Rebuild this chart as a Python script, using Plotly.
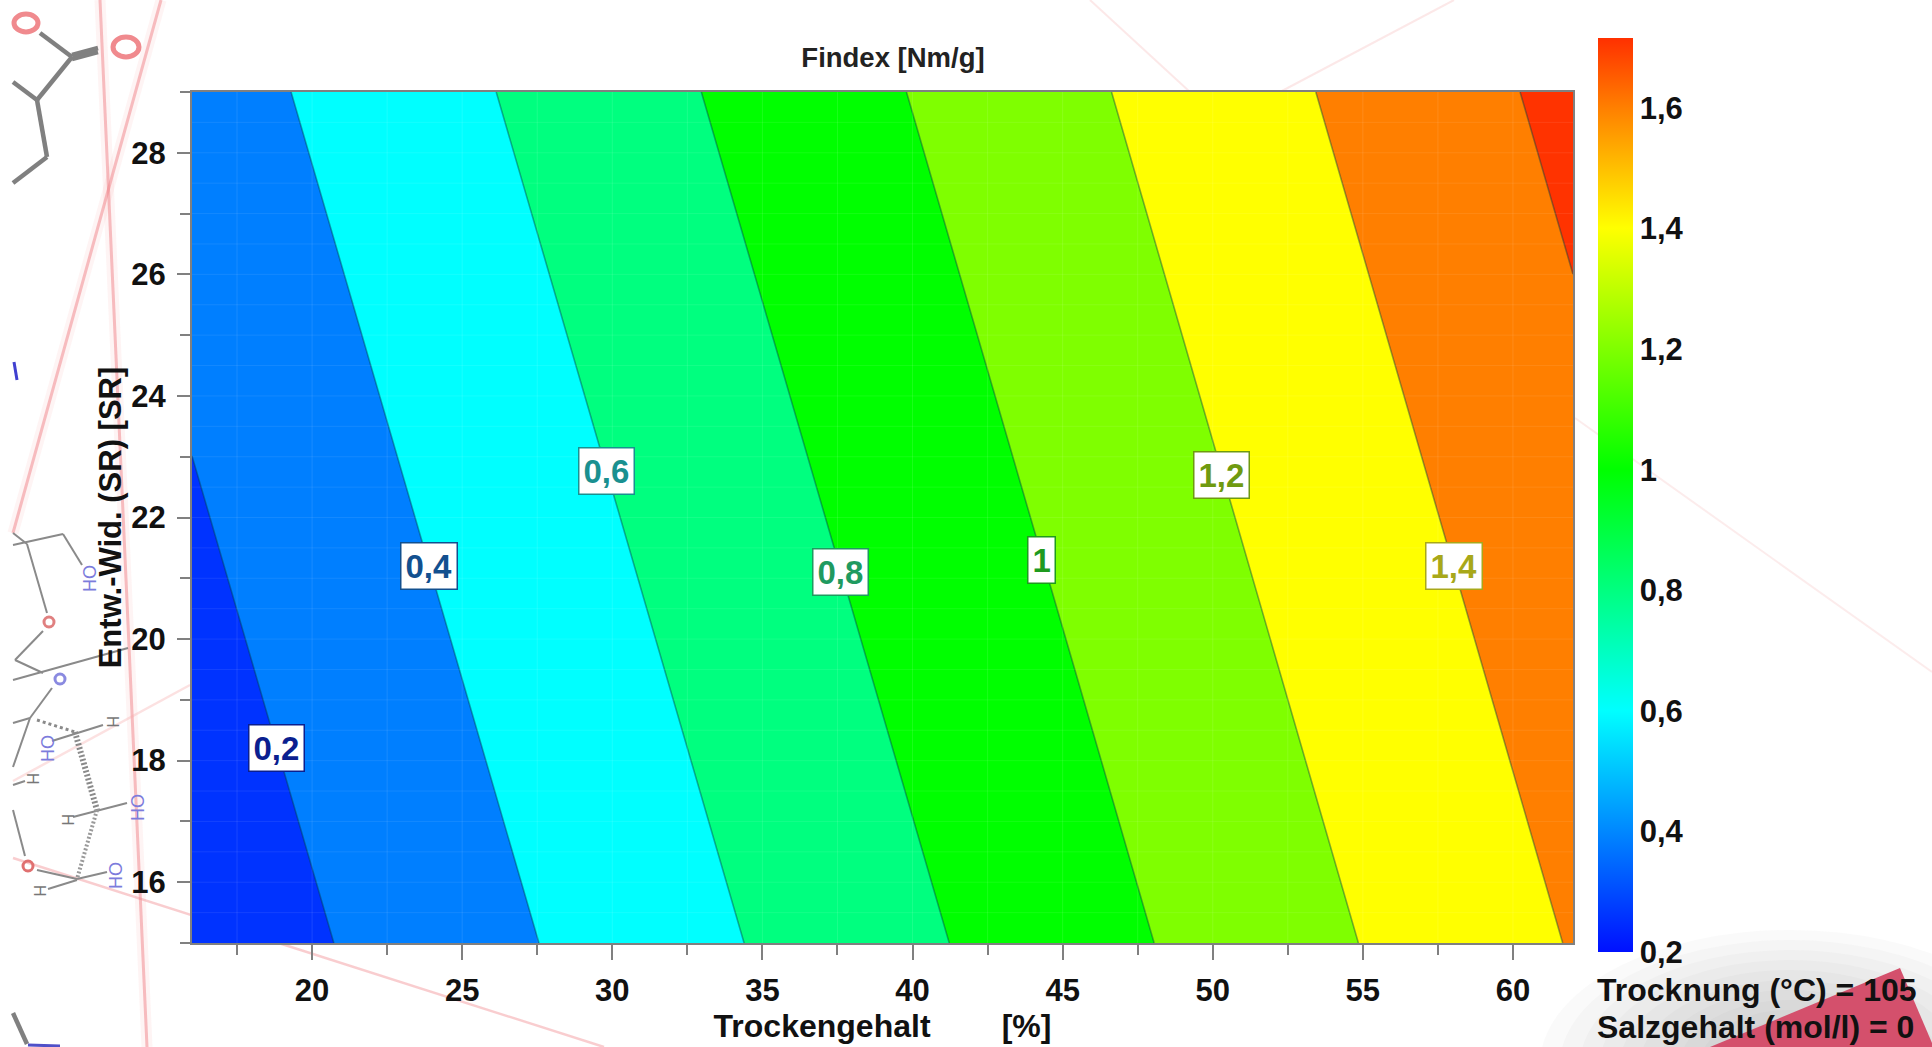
import plotly.graph_objects as go

W, H = 1932, 1047

# ---- data ----
x_values = [16, 30, 46, 62]
y_values = [15, 22, 29]
z_rows = [
    [0.0617, 0.4715, 0.9398, 1.4101],
    [0.1825, 0.5923, 1.0606, 1.5309],
    [0.3034, 0.7132, 1.1815, 1.6518],
]
band_colors = ["#0033ff", "#007fff", "#00ffff", "#00ff7f", "#00ff00",
               "#7fff00", "#ffff00", "#ff7f00", "#ff3300"]
label_texts = ["0,2", "0,4", "0,6", "0,8", "1", "1,2", "1,4"]
label_x = [18.8, 23.9, 29.8, 37.6, 44.3, 50.3, 58.05]
label_y = [18.2, 21.2, 22.77, 21.1, 21.3, 22.7, 21.2]
label_colors = ["#0b1f8f", "#12508f", "#1a9090", "#1f9a60", "#1f9a1f", "#6f9a10", "#a8a81a"]
x_ticks = [20, 25, 30, 35, 40, 45, 50, 55, 60]
y_ticks = [16, 18, 20, 22, 24, 26, 28]
cbar_ticks = [0.2, 0.4, 0.6, 0.8, 1.0, 1.2, 1.4, 1.6]
cbar_text = ["0,2", "0,4", "0,6", "0,8", "1", "1,2", "1,4", "1,6"]
cbar_min, cbar_max = 0.2, 1.716
cbar_scale = [[0.0, "#0010ff"], [0.264, "#00ffff"], [0.528, "#00ff00"],
              [0.792, "#ffff00"], [0.923, "#ff8000"], [1.0, "#ff3000"]]

FONT = "Liberation Sans"
GREY = "#808080"
INK = "#111111"


def px(v):
    return v / W


def py(v):
    return 1 - v / H


fig = go.Figure()

n = len(band_colors) - 1
fig.add_trace(go.Contour(
    x=x_values, y=y_values, z=z_rows,
    zmin=0.1, zmax=1.7,
    autocontour=False,
    contours=dict(start=0.2, end=1.6, size=0.2, coloring="fill", showlines=True),
    line=dict(color="rgba(0,60,70,0.42)", width=1.6),
    colorscale=[[i / n, c] for i, c in enumerate(band_colors)],
    showscale=False,
))

fig.add_trace(go.Scatter(
    x=[None, None], y=[None, None], mode="markers", hoverinfo="skip", showlegend=False,
    marker=dict(
        color=[cbar_min, cbar_max], cmin=cbar_min, cmax=cbar_max, colorscale=cbar_scale,
        showscale=True,
        colorbar=dict(
            thickness=35, thicknessmode="pixels", len=914, lenmode="pixels",
            x=px(1598), xanchor="left", y=py(952), yanchor="bottom",
            xpad=0, ypad=0, outlinewidth=0, borderwidth=0,
            tickmode="array", tickvals=cbar_ticks, ticktext=cbar_text,
            ticks="", tickfont=dict(family=FONT, size=31, color=INK, weight=700),
        ),
    ),
))

axis_common = dict(
    showgrid=False, zeroline=False, showline=True, mirror=True,
    linecolor=GREY, linewidth=2, ticks="outside", tickcolor=GREY, tickwidth=2,
    tickfont=dict(family=FONT, size=31, color=INK, weight=700), layer="above traces",
)
fig.update_xaxes(
    domain=[px(192), px(1573)], range=[16, 62], tickmode="array", tickvals=x_ticks, ticklen=15,
    ticklabelstandoff=4,
    minor=dict(dtick=2.5, ticks="outside", ticklen=10, tickcolor=GREY, tickwidth=2, showgrid=False),
    title=dict(text="<b>Trockengehalt        [%]</b>", standoff=0,
               font=dict(family=FONT, size=32, color=INK)),
    **axis_common,
)
fig.update_yaxes(
    domain=[py(943), py(92)], range=[15, 29], tickmode="array", tickvals=y_ticks, ticklen=13,
    ticklabelstandoff=5,
    minor=dict(dtick=1, ticks="outside", ticklen=10, tickcolor=GREY, tickwidth=2, showgrid=False),
    title=dict(text="<b>Entw.-Wid. (SR) [SR]</b>", standoff=0,
               font=dict(family=FONT, size=31, color=INK)),
    **axis_common,
)

annotations = []
for t, xv, yv, c in zip(label_texts, label_x, label_y, label_colors):
    annotations.append(dict(
        x=xv, y=yv, xref="x", yref="y", text=f"<b>{t}</b>", showarrow=False,
        font=dict(family=FONT, size=33, color=c), bgcolor="white", bordercolor=c,
        borderwidth=1.5, borderpad=4,
    ))
annotations.append(dict(x=px(1595), y=py(990), xref="paper", yref="paper", xanchor="left", yanchor="middle",
                        text="<b>Trocknung (°C) = 105</b>", showarrow=False,
                        font=dict(family=FONT, size=32, color=INK)))
annotations.append(dict(x=px(1595), y=py(1027), xref="paper", yref="paper", xanchor="left", yanchor="middle",
                        text="<b>Salzgehalt (mol/l) = 0</b>", showarrow=False,
                        font=dict(family=FONT, size=32, color=INK)))

# faded molecule text in the backdrop
for ox, oy in [(89, 578), (47, 748), (137, 807), (115, 875)]:
    annotations.append(dict(x=px(ox), y=py(oy), xref="paper", yref="paper", text="OH",
                            textangle=90, showarrow=False, xanchor="center", yanchor="middle",
                            font=dict(family=FONT, size=18, color="#7c7cdc")))
for hx, hy in [(113, 722), (33, 779), (68, 820), (40, 891)]:
    annotations.append(dict(x=px(hx), y=py(hy), xref="paper", yref="paper", text="H",
                            textangle=90, showarrow=False, xanchor="center", yanchor="middle",
                            font=dict(family=FONT, size=16, color="#777777")))

shapes = []


def seg(x0, y0, x1, y1, color, width, dash="solid"):
    shapes.append(dict(type="line", xref="paper", yref="paper", layer="below",
                       x0=px(x0), y0=py(y0), x1=px(x1), y1=py(y1),
                       line=dict(color=color, width=width, dash=dash)))


def ring(cx, cy, rx, ry, color, width):
    shapes.append(dict(type="circle", xref="paper", yref="paper", layer="below",
                       x0=px(cx - rx), y0=py(cy - ry), x1=px(cx + rx), y1=py(cy + ry),
                       line=dict(color=color, width=width)))


# soft shadow and red wedge, lower right
for rx, ry in [(250, 135), (230, 125), (210, 115), (190, 105), (170, 95), (150, 85),
               (130, 75), (110, 65), (90, 55), (70, 45)]:
    shapes.append(dict(type="circle", xref="paper", yref="paper", layer="below",
                       x0=px(1790 - rx), y0=py(1065 - ry), x1=px(1790 + rx), y1=py(1065 + ry),
                       fillcolor="rgba(110,110,110,0.035)", line=dict(width=0)))
shapes.append(dict(type="path", xref="paper", yref="paper", layer="below",
                   path=f"M {px(1710)} {py(1047)} L {px(1900)} {py(968)} L {px(1932)} {py(1043)} L {px(1932)} {py(1047)} Z",
                   fillcolor="#d4506c", line=dict(width=0)))

# pink diagonal streaks
for w, a in [(11, 0.09), (3, 0.5)]:
    c = f"rgba(240,130,135,{a})"
    seg(100, 0, 147, 1047, c, w)
    seg(161, 0, 13, 533, c, w)
seg(13, 858, 604, 1047, "rgba(240,130,135,0.4)", 2.5)
seg(13, 781, 190, 685, "rgba(245,170,170,0.35)", 2.5)
seg(1090, 0, 1190, 92, "rgba(245,190,190,0.35)", 2)
seg(1454, 0, 1280, 92, "rgba(245,190,190,0.35)", 2)
seg(1575, 418, 1932, 672, "rgba(245,200,200,0.35)", 2)

# molecule fragments
for s in [(40, 33, 72, 57), (72, 55, 98, 48), (72, 59, 98, 52), (72, 57, 37, 100),
          (37, 100, 13, 82), (37, 100, 47, 157), (47, 157, 13, 183), (13, 1013, 27, 1044)]:
    seg(*s, "#808080", 4.5)
for s in [(13, 533, 27, 544), (13, 545, 63, 534), (63, 534, 82, 565), (27, 544, 47, 613),
          (43, 631, 15, 660), (15, 660, 43, 673), (13, 680, 128, 648), (52, 688, 30, 718),
          (13, 723, 30, 718), (30, 718, 13, 767), (52, 741, 103, 725), (13, 785, 25, 781),
          (73, 817, 127, 803), (13, 810, 25, 856), (37, 870, 77, 879), (77, 879, 107, 872),
          (77, 880, 48, 889)]:
    seg(*s, "#8a8a8a", 2)
seg(37, 720, 75, 732, "#8a8a8a", 3, "dot")
seg(75, 732, 97, 810, "#8a8a8a", 6, "2px,2px")
seg(97, 810, 77, 879, "#9a9a9a", 4, "2px,2px")
ring(26, 23, 12, 9, "#f08a8e", 5)
ring(126, 47, 13, 10, "#f08a8e", 5)
ring(49, 622, 5, 5, "#e08080", 3)
ring(60, 679, 5, 5, "#8a8ae0", 3)
ring(28, 866, 5, 5, "#e07070", 3)
seg(14, 362, 17, 380, "#4040d0", 3)
seg(28, 1045, 60, 1046, "#5050c8", 3)

# faint gridlines across the filled bands
grid_x = [17.5, 20, 22.5, 25, 27.5, 30, 32.5, 35, 37.5, 40, 42.5, 45, 47.5, 50, 52.5, 55, 57.5, 60]
grid_y = [15.5, 16, 16.5, 17, 17.5, 18, 18.5, 19, 19.5, 20, 20.5, 21, 21.5, 22, 22.5, 23, 23.5,
          24, 24.5, 25, 25.5, 26, 26.5, 27, 27.5, 28, 28.5]
for g in grid_x:
    shapes.append(dict(type="line", xref="x", yref="y domain", x0=g, x1=g, y0=0, y1=1, layer="above",
                       line=dict(color="rgba(255,255,255,0.1)", width=1)))
for g in grid_y:
    shapes.append(dict(type="line", xref="x domain", yref="y", x0=0, x1=1, y0=g, y1=g, layer="above",
                       line=dict(color="rgba(255,255,255,0.08)", width=1)))

fig.update_layout(
    width=W, height=H,
    margin=dict(l=0, r=0, t=0, b=0, pad=0, autoexpand=False),
    paper_bgcolor="white", plot_bgcolor="white",
    separators=", ",
    showlegend=False,
    font=dict(family=FONT),
    title=dict(text="<b>Findex [Nm/g]</b>", x=px(893), xanchor="center", y=py(57), yanchor="middle",
               font=dict(family=FONT, size=27.5, color="#222222")),
    annotations=annotations,
    shapes=shapes,
)

fig.write_html("out.html", config={"displayModeBar": False},
               post_script="document.body.style.margin='0';document.body.style.overflow='hidden';")
